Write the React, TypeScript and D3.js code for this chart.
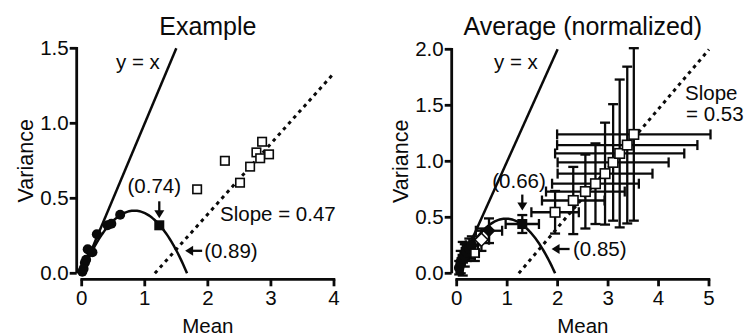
import React from "react";
import * as d3 from "d3";

// ---------- Data ----------
const leftXTicks = [0, 1, 2, 3, 4];
const leftYTicks = [0, 0.5, 1.0, 1.5];
const rightXTicks = [0, 1, 2, 3, 4, 5];
const rightYTicks = [0, 0.5, 1.0, 1.5, 2.0];

// Example panel: small-count points (filled circles)
const exCirclesX = [0.01, 0.03, 0.05, 0.07, 0.095, 0.14, 0.17, 0.24, 0.41, 0.47, 0.61];
const exCirclesY = [0.01, 0.03, 0.07, 0.09, 0.16, 0.145, 0.14, 0.26, 0.32, 0.33, 0.39];
// Example panel: black square (peak)
const exSquareX = [1.23];
const exSquareY = [0.32];
// Example panel: open squares
const exOpenX = [1.83, 2.27, 2.51, 2.67, 2.77, 2.83, 2.86, 2.97];
const exOpenY = [0.56, 0.75, 0.604, 0.711, 0.806, 0.767, 0.877, 0.793];
const exParabolaN = 1.67;
const exSlope = 0.47;
const exSlopeX0 = 1.16;

// Average panel: near-origin filled points
const avFilledX = [0.05, 0.08, 0.12, 0.16, 0.2, 0.25, 0.3];
const avFilledY = [0.05, 0.1, 0.13, 0.16, 0.19, 0.22, 0.25];
const avFilledEX = [0.05, 0.06, 0.08, 0.08, 0.1, 0.1, 0.12];
const avFilledEY = [0.06, 0.1, 0.15, 0.1, 0.08, 0.09, 0.08];
// Average panel: open diamond, black diamond, small open square
const avOpenDiaX = [0.49];
const avOpenDiaY = [0.3];
const avOpenDiaEX = [0.15];
const avOpenDiaEY = [0.1];
const avDiaX = [0.64];
const avDiaY = [0.38];
const avDiaEX = [0.26];
const avDiaEY = [0.11];
const avSmallSqX = [0.36];
const avSmallSqY = [0.18];
const avSmallSqEX = [0.08];
const avSmallSqEY = [0.07];
// Average panel: black square (peak)
const avSquareX = [1.3];
const avSquareY = [0.44];
const avSquareEX = [0.33];
const avSquareEY = [0.08];
// Average panel: open squares
const avOpenX = [1.95, 2.31, 2.55, 2.75, 2.94, 3.1, 3.23, 3.38, 3.51];
const avOpenY = [0.545, 0.65, 0.73, 0.8, 0.89, 0.99, 1.07, 1.145, 1.24];
const avOpenEX = [0.47, 0.62, 0.78, 0.86, 0.94, 1.1, 1.28, 1.39, 1.52];
const avOpenEY = [0.19, 0.3, 0.33, 0.36, 0.455, 0.52, 0.66, 0.7, 0.77];
const avParabolaN = 1.95;
const avSlope = 0.53;
const avSlopeX0 = 1.23;

const FONT = "'Liberation Sans', Arial, Helvetica, sans-serif";
const INK = "#0a0a0a";

// ---------- Helpers ----------
type Sc = d3.ScaleLinear<number, number>;

function Axes({ x, y, xt, yt }: { x: Sc; y: Sc; xt: number[]; yt: number[] }) {
  const x0 = x(0);
  const y0 = y(0);
  const axX = x0 - 5; // y-axis offset to the left
  const axY = y0 + 6; // x-axis offset below
  const xr = x.range();
  const yr = y.range();
  return (
    <g stroke={INK} strokeWidth={2.8} fill="none">
      <line x1={axX} x2={axX} y1={yr[0]} y2={yr[1] - 1.3} />
      {yt.map((t) => (
        <line key={"yt" + t} x1={axX - 7} x2={axX} y1={y(t)} y2={y(t)} />
      ))}
      <line x1={xr[0] - 1.3} x2={xr[1] + 1.3} y1={axY} y2={axY} />
      {xt.map((t) => (
        <line key={"xt" + t} x1={x(t)} x2={x(t)} y1={axY} y2={axY + 7} />
      ))}
      <g stroke="none" fill={INK} fontFamily={FONT} fontSize={20.5}>
        {yt.map((t) => (
          <text key={"yl" + t} x={axX - 8} y={y(t) + 7} textAnchor="end">
            {d3.format(".1f")(t)}
          </text>
        ))}
        {xt.map((t) => (
          <text key={"xl" + t} x={x(t)} y={305} textAnchor="middle">
            {t}
          </text>
        ))}
      </g>
    </g>
  );
}

function ErrBars({ x, y, xs, ys, ex, ey }: { x: Sc; y: Sc; xs: number[]; ys: number[]; ex: number[]; ey: number[] }) {
  const cap = 5;
  return (
    <g stroke={INK} strokeWidth={2.3} fill="none">
      {xs.map((v, i) => {
        const cx = x(v);
        const cy = y(ys[i]);
        const xl = x(v - ex[i]);
        const xh = x(v + ex[i]);
        const yl = y(ys[i] - ey[i]);
        const yh = y(ys[i] + ey[i]);
        return (
          <g key={i}>
            <line x1={xl} x2={xh} y1={cy} y2={cy} />
            <line x1={xl} x2={xl} y1={cy - cap} y2={cy + cap} />
            <line x1={xh} x2={xh} y1={cy - cap} y2={cy + cap} />
            <line x1={cx} x2={cx} y1={yl} y2={yh} />
            <line x1={cx - cap} x2={cx + cap} y1={yl} y2={yl} />
            <line x1={cx - cap} x2={cx + cap} y1={yh} y2={yh} />
          </g>
        );
      })}
    </g>
  );
}

function Arrow({ tx, ty, dir, len }: { tx: number; ty: number; dir: "down" | "left"; len: number }) {
  const h = 8;
  const w = 5;
  if (dir === "down") {
    return (
      <g>
        <line x1={tx} x2={tx} y1={ty - len} y2={ty - h + 1} stroke={INK} strokeWidth={2.3} />
        <polygon points={`${tx - w},${ty - h} ${tx + w},${ty - h} ${tx},${ty}`} fill={INK} />
      </g>
    );
  }
  return (
    <g>
      <line x1={tx + h - 1} x2={tx + len} y1={ty} y2={ty} stroke={INK} strokeWidth={2.3} />
      <polygon points={`${tx + h},${ty - w} ${tx + h},${ty + w} ${tx},${ty}`} fill={INK} />
    </g>
  );
}

function Panel({
  x,
  y,
  xt,
  yt,
  title,
  n,
  slope,
  slopeX0,
  children,
}: {
  x: Sc;
  y: Sc;
  xt: number[];
  yt: number[];
  title: string;
  n: number;
  slope: number;
  slopeX0: number;
  children: React.ReactNode;
}) {
  const xMax = x.domain()[1];
  const yMax = y.domain()[1];
  const parab = d3.range(0, n + 0.0001, n / 80).map((m) => [m, Math.max(0, m - (m * m) / n)] as [number, number]);
  const line = d3
    .line<[number, number]>()
    .x((d) => x(d[0]))
    .y((d) => y(d[1]));
  const xr = x.range();
  const yr = y.range();
  const slopeEnd = Math.min(xMax, slopeX0 + yMax / slope);
  return (
    <g>
      <text x={(xr[0] + xr[1]) / 2} y={35} textAnchor="middle" fontFamily={FONT} fontSize={25} fill={INK}>
        {title}
      </text>
      <text
        transform={`translate(${x(0) - 49},${(yr[0] + yr[1]) / 2}) rotate(-90)`}
        textAnchor="middle"
        fontFamily={FONT}
        fontSize={21.5}
        fill={INK}
      >
        Variance
      </text>
      <text x={(xr[0] + xr[1]) / 2} y={333} textAnchor="middle" fontFamily={FONT} fontSize={20.5} fill={INK}>
        Mean
      </text>
      <Axes x={x} y={y} xt={xt} yt={yt} />
      {/* y = x */}
      <line x1={x(0)} y1={y(0)} x2={x(yMax)} y2={y(yMax)} stroke={INK} strokeWidth={2.5} />
      {/* slope line */}
      <line
        x1={x(slopeX0)}
        y1={y(0)}
        x2={x(slopeEnd)}
        y2={y(slope * (slopeEnd - slopeX0))}
        stroke={INK}
        strokeWidth={3}
        strokeDasharray="3.5 4.2"
      />
      {/* parabola */}
      <path d={line(parab) || ""} stroke={INK} strokeWidth={2.5} fill="none" />
      {children}
    </g>
  );
}

export default function App() {
  const xL = d3.scaleLinear().domain([0, 4]).range([81.7, 334]);
  const yL = d3.scaleLinear().domain([0, 1.5]).range([273.3, 48.3]);
  const xR = d3.scaleLinear().domain([0, 5]).range([456.7, 709]);
  const yR = d3.scaleLinear().domain([0, 2]).range([273.3, 49.3]);

  const sqL = 8.5;
  const sqR = 9.5;

  return (
    <div style={{ position: "absolute", left: 0, top: 0 }}>
      <svg width={746} height={336} style={{ display: "block", background: "#fff" }}>
        <rect width={746} height={336} fill="#fff" />
        <Panel x={xL} y={yL} xt={leftXTicks} yt={leftYTicks} title="Example" n={exParabolaN} slope={exSlope} slopeX0={exSlopeX0}>
          {exCirclesX.map((v, i) => (
            <circle key={"c" + i} cx={xL(v)} cy={yL(exCirclesY[i])} r={5} fill={INK} />
          ))}
          {exSquareX.map((v, i) => (
            <rect key={"s" + i} x={xL(v) - 5} y={yL(exSquareY[i]) - 5} width={10} height={10} fill={INK} />
          ))}
          {exOpenX.map((v, i) => (
            <rect
              key={"o" + i}
              x={xL(v) - sqL / 2}
              y={yL(exOpenY[i]) - sqL / 2}
              width={sqL}
              height={sqL}
              fill="#fff"
              stroke={INK}
              strokeWidth={1.6}
            />
          ))}
          <text x={xL(1.23) - 5} y={193} textAnchor="middle" fontFamily={FONT} fontSize={20.5} fill={INK}>
            (0.74)
          </text>
          <Arrow tx={xL(exSquareX[0])} ty={yL(exSquareY[0]) - 7} dir="down" len={17} />
          <Arrow tx={xL(1.64)} ty={yL(0.15)} dir="left" len={17} />
          <text x={xL(1.64) + 19} y={258} fontFamily={FONT} fontSize={20.5} fill={INK}>
            (0.89)
          </text>
          <text x={220} y={221} fontFamily={FONT} fontSize={20.5} fill={INK}>
            Slope = 0.47
          </text>
          <text x={116} y={69} fontFamily={FONT} fontSize={20.5} fill={INK}>
            y = x
          </text>
        </Panel>

        <Panel
          x={xR}
          y={yR}
          xt={rightXTicks}
          yt={rightYTicks}
          title="Average (normalized)"
          n={avParabolaN}
          slope={avSlope}
          slopeX0={avSlopeX0}
        >
          <ErrBars x={xR} y={yR} xs={avFilledX} ys={avFilledY} ex={avFilledEX} ey={avFilledEY} />
          <ErrBars x={xR} y={yR} xs={avSmallSqX} ys={avSmallSqY} ex={avSmallSqEX} ey={avSmallSqEY} />
          <ErrBars x={xR} y={yR} xs={avOpenDiaX} ys={avOpenDiaY} ex={avOpenDiaEX} ey={avOpenDiaEY} />
          <ErrBars x={xR} y={yR} xs={avDiaX} ys={avDiaY} ex={avDiaEX} ey={avDiaEY} />
          <ErrBars x={xR} y={yR} xs={avSquareX} ys={avSquareY} ex={avSquareEX} ey={avSquareEY} />
          <ErrBars x={xR} y={yR} xs={avOpenX} ys={avOpenY} ex={avOpenEX} ey={avOpenEY} />
          {avFilledX.map((v, i) => (
            <circle key={"f" + i} cx={xR(v)} cy={yR(avFilledY[i])} r={5.3} fill={INK} />
          ))}
          {avSmallSqX.map((v, i) => (
            <rect key={"ss" + i} x={xR(v) - 4} y={yR(avSmallSqY[i]) - 4} width={8} height={8} fill="#fff" stroke={INK} strokeWidth={1.6} />
          ))}
          {avOpenDiaX.map((v, i) => {
            const cx = xR(v);
            const cy = yR(avOpenDiaY[i]);
            const r = 6.5;
            return (
              <polygon
                key={"od" + i}
                points={`${cx},${cy - r} ${cx + r},${cy} ${cx},${cy + r} ${cx - r},${cy}`}
                fill="#fff"
                stroke={INK}
                strokeWidth={1.6}
              />
            );
          })}
          {avDiaX.map((v, i) => {
            const cx = xR(v);
            const cy = yR(avDiaY[i]);
            const r = 6.5;
            return <polygon key={"d" + i} points={`${cx},${cy - r} ${cx + r},${cy} ${cx},${cy + r} ${cx - r},${cy}`} fill={INK} />;
          })}
          {avSquareX.map((v, i) => (
            <rect key={"bs" + i} x={xR(v) - 5} y={yR(avSquareY[i]) - 5} width={10} height={10} fill={INK} />
          ))}
          {avOpenX.map((v, i) => (
            <rect
              key={"os" + i}
              x={xR(v) - sqR / 2}
              y={yR(avOpenY[i]) - sqR / 2}
              width={sqR}
              height={sqR}
              fill="#fff"
              stroke={INK}
              strokeWidth={1.6}
            />
          ))}
          <text x={519} y={188} textAnchor="middle" fontFamily={FONT} fontSize={20.5} fill={INK}>
            (0.66)
          </text>
          <Arrow tx={xR(avSquareX[0])} ty={yR(0.56)} dir="down" len={16} />
          <Arrow tx={xR(1.88)} ty={yR(0.217)} dir="left" len={18} />
          <text x={573} y={256} fontFamily={FONT} fontSize={20.5} fill={INK}>
            (0.85)
          </text>
          <text x={685} y={100} fontFamily={FONT} fontSize={20.5} fill={INK}>
            Slope
          </text>
          <text x={686} y={121} fontFamily={FONT} fontSize={20.5} fill={INK}>
            = 0.53
          </text>
          <text x={494} y={69} fontFamily={FONT} fontSize={20.5} fill={INK}>
            y = x
          </text>
        </Panel>
      </svg>
    </div>
  );
}
